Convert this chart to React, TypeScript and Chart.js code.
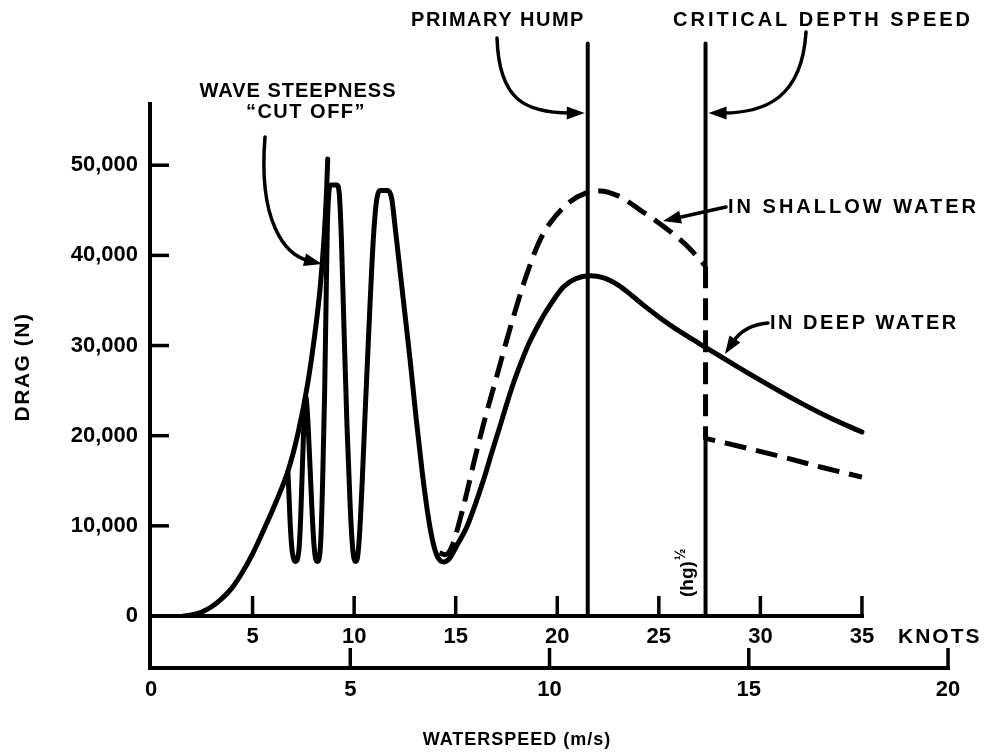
import React, { useEffect, useRef } from 'react';
import { Chart, registerables } from 'chart.js';

Chart.register(...registerables);

// ---- axis ticks ----
const knotTicks = [5, 10, 15, 20, 25, 30, 35];
const msTicks = [0, 5, 10, 15, 20];
const dragTicks = [0, 10000, 20000, 30000, 40000, 50000];

// ---- wave steepness envelope (solid) ----
const envKnots = [1.6, 2.0, 2.5, 3.0, 3.5, 4.0, 4.5, 5.0, 5.5, 6.2, 6.76, 7.25, 7.7, 8.05, 8.33, 8.52, 8.64, 8.7];
const envDrag = [0, 120, 450, 1050, 1950, 3150, 4850, 6900, 9300, 12900, 16200, 20400, 25600, 31000, 36500, 42000, 47000, 50700];

// ---- deep water drag (solid, with wave-steepness oscillations) ----
const deepKnots = [
  6.74, 6.8, 6.87, 6.95, 7.03, 7.12, 7.21, 7.29, 7.37, 7.46,
  7.55, 7.62, 7.7, 7.8, 7.92, 8.02, 8.1, 8.19, 8.28, 8.36,
  8.45, 8.55, 8.62, 8.68, 8.75, 8.85, 9.15, 9.27, 9.37, 9.5,
  9.65, 9.8, 9.9, 9.98, 10.07, 10.16, 10.25, 10.38, 10.55, 10.75,
  10.95, 11.1, 11.3, 11.65, 11.85, 12.0, 12.2, 12.45, 12.75, 13.05,
  13.35, 13.65, 13.9, 14.12, 14.4, 14.7, 15.05, 15.55, 16.37, 16.8,
  17.2, 17.55, 17.9, 18.25, 18.6, 19.0, 19.4, 19.8, 20.3, 20.9,
  21.6, 22.3, 23.0, 23.7, 24.4, 25.1, 25.8, 26.5, 27.3, 28.9,
  30.5, 32.1, 33.5, 35,
];
const deepDrag = [
  16000, 13000, 9500, 7200, 6300, 6050, 6300, 7500, 11000, 17000,
  22500, 24300, 22500, 18000, 12000, 8000, 6400, 6050, 6400, 8500,
  15000, 25000, 35000, 43000, 46800, 47800, 47800, 46800, 42000, 32000,
  21000, 12500, 8300, 6500, 6050, 6400, 8500, 14000, 23000, 33000,
  42000, 46000, 47200, 47200, 46300, 43500, 39500, 34500, 28500, 22000,
  16000, 11000, 8000, 6500, 6000, 6400, 7800, 9900, 15100, 18300,
  21200, 23800, 26200, 28300, 30200, 32000, 33600, 35000, 36500, 37400,
  37750, 37500, 36700, 35500, 34200, 33000, 31900, 30900, 29800, 27600,
  25500, 23500, 21900, 20400,
];

// ---- shallow water drag (dashed) ----
const shallowKnots = [
  14.2, 14.5, 14.85, 15.2, 15.55, 15.88, 16.2, 16.55, 17.0, 17.5,
  17.95, 18.35, 18.75, 19.15, 19.65, 20.6, 21.4, 22.1, 23.0, 24.1,
  25.0, 25.7, 26.5, 27.3,
];
const shallowDrag = [
  7000, 6800, 7900, 10600, 13700, 16900, 19800, 22800, 26400, 30500,
  34000, 36900, 39500, 41700, 43600, 45900, 46900, 47150, 46600, 45000,
  43600, 42400, 40800, 38800,
];
const shallowLowKnots = [27.3, 27.3, 29.0, 31.0, 33.0, 35.0];
const shallowLowDrag = [38800, 19700, 18800, 17700, 16500, 15400];

// ---- marker lines ----
const humpKnots = 21.5;
const criticalKnots = 27.3;
const markerTop = 63500;

const FONT = '"Liberation Sans", Arial, Helvetica, sans-serif';

function pts(xs: number[], ys: (number | null)[]) {
  return xs.map((x, i) => ({ x, y: ys[i] }));
}

function drawText(ctx: CanvasRenderingContext2D, text: string, x: number, y: number, size: number, spacing: string, align: CanvasTextAlign = 'center') {
  ctx.font = `bold ${size}px ${FONT}`;
  (ctx as any).letterSpacing = spacing;
  ctx.textAlign = align;
  ctx.textBaseline = 'middle';
  ctx.fillText(text, x, y);
  (ctx as any).letterSpacing = '0px';
}

function arrow(ctx: CanvasRenderingContext2D, p0: number[], c1: number[] | null, c2: number[] | null, tip: number[]) {
  const from = c2 || c1 || p0;
  const dx = tip[0] - from[0];
  const dy = tip[1] - from[1];
  const len = Math.hypot(dx, dy);
  const ux = dx / len, uy = dy / len;
  const headL = 18, headW = 6.5;
  const base = [tip[0] - ux * headL, tip[1] - uy * headL];
  ctx.lineWidth = 3.5;
  ctx.lineCap = 'round';
  ctx.beginPath();
  ctx.moveTo(p0[0], p0[1]);
  if (c1 && c2) ctx.bezierCurveTo(c1[0], c1[1], c2[0], c2[1], base[0] + ux * 4, base[1] + uy * 4);
  else if (c1) ctx.quadraticCurveTo(c1[0], c1[1], base[0] + ux * 4, base[1] + uy * 4);
  else ctx.lineTo(base[0] + ux * 4, base[1] + uy * 4);
  ctx.stroke();
  ctx.beginPath();
  ctx.moveTo(tip[0], tip[1]);
  ctx.lineTo(base[0] - uy * headW, base[1] + ux * headW);
  ctx.lineTo(base[0] + uy * headW, base[1] - ux * headW);
  ctx.closePath();
  ctx.fill();
}

const annotatePlugin = {
  id: 'annotate',
  beforeDraw(chart: any) {
    const ctx = chart.ctx;
    ctx.save();
    ctx.fillStyle = '#fff';
    ctx.fillRect(0, 0, chart.width, chart.height);
    ctx.restore();
  },
  afterDraw(chart: any) {
    const ctx: CanvasRenderingContext2D = chart.ctx;
    const xs = chart.scales.x;
    const ys = chart.scales.y;
    const ms = chart.scales.ms;
    ctx.save();
    ctx.strokeStyle = '#000';
    ctx.fillStyle = '#000';
    ctx.lineCap = 'butt';

    const x0 = xs.getPixelForValue(0) - 1;
    const y0 = ys.getPixelForValue(0);
    const yMs = y0 + 52;

    // y axis line
    ctx.lineWidth = 4;
    ctx.beginPath();
    ctx.moveTo(x0, ys.getPixelForValue(57000));
    ctx.lineTo(x0, yMs + 2);
    ctx.stroke();
    // y ticks
    ctx.lineWidth = 3.5;
    for (const v of dragTicks) {
      const py = ys.getPixelForValue(v);
      ctx.beginPath();
      ctx.moveTo(x0, py);
      ctx.lineTo(x0 + 19, py);
      ctx.stroke();
    }
    // knots axis
    ctx.lineWidth = 4;
    ctx.beginPath();
    ctx.moveTo(x0, y0);
    ctx.lineTo(xs.getPixelForValue(35) + 2, y0);
    ctx.stroke();
    ctx.lineWidth = 3.5;
    for (const k of knotTicks) {
      const px = xs.getPixelForValue(k);
      ctx.beginPath();
      ctx.moveTo(px, y0);
      ctx.lineTo(px, y0 - 20);
      ctx.stroke();
    }
    // m/s axis
    ctx.lineWidth = 4;
    ctx.beginPath();
    ctx.moveTo(x0, yMs);
    ctx.lineTo(ms.getPixelForValue(20) + 2, yMs);
    ctx.stroke();
    ctx.lineWidth = 3.5;
    for (const v of msTicks) {
      if (v === 0) continue;
      const px = ms.getPixelForValue(v);
      ctx.beginPath();
      ctx.moveTo(px, yMs);
      ctx.lineTo(px, yMs - 20);
      ctx.stroke();
    }

    // texts
    drawText(ctx, 'PRIMARY HUMP', 498, 20, 20, '1.5px');
    drawText(ctx, 'CRITICAL DEPTH SPEED', 823, 20, 20, '3px');
    drawText(ctx, 'WAVE STEEPNESS', 298, 91, 20, '1px');
    drawText(ctx, '\u201CCUT OFF\u201D', 306, 112, 20, '1.5px');
    drawText(ctx, 'IN SHALLOW WATER', 728, 207, 20, '3px', 'left');
    drawText(ctx, 'IN DEEP WATER', 770, 323, 20, '2.5px', 'left');
    drawText(ctx, 'KNOTS', 898, 637, 21, '2px', 'left');
    drawText(ctx, 'WATERSPEED (m/s)', 517, 740, 18, '1px');

    // rotated texts
    ctx.save();
    ctx.translate(23, 367);
    ctx.rotate(-Math.PI / 2);
    drawText(ctx, 'DRAG (N)', 0, 0, 21, '1.5px');
    ctx.restore();

    ctx.save();
    ctx.translate(688, 597);
    ctx.rotate(-Math.PI / 2);
    ctx.font = `bold 19px ${FONT}`;
    ctx.textAlign = 'left';
    ctx.textBaseline = 'middle';
    ctx.fillText('(hg)', 0, 0);
    const w = ctx.measureText('(hg)').width;
    ctx.font = `bold 14px ${FONT}`;
    ctx.fillText('\u00BD', w + 1, -7);
    ctx.restore();

    // arrows
    const hx = xs.getPixelForValue(humpKnots);
    const cx = xs.getPixelForValue(criticalKnots);
    arrow(ctx, [497, 38], [499, 100], [525, 113], [hx - 3, 113]);
    arrow(ctx, [806, 32], [802, 98], [765, 113], [cx + 3, 113]);
    arrow(ctx, [265, 137], [258, 222], [285, 255], [322, 264]);
    arrow(ctx, [726, 207], null, null, [663, 221]);
    arrow(ctx, [768, 323], [744, 325], null, [725, 354]);

    ctx.restore();
  },
};

export default function App() {
  const ref = useRef<HTMLCanvasElement | null>(null);
  useEffect(() => {
    if (!ref.current) return;
    const tickFont = { family: FONT, size: 22, weight: 'bold' as const };
    const line = (data: any[], extra: any = {}) => ({
      data,
      borderColor: '#000',
      borderWidth: 5,
      pointRadius: 0,
      fill: false,
      cubicInterpolationMode: 'monotone',
      borderCapStyle: 'round',
      borderJoinStyle: 'round',
      xAxisID: 'x',
      yAxisID: 'y',
      ...extra,
    });
    const chart = new Chart(ref.current, {
      type: 'line',
      data: {
        datasets: [
          line(pts(envKnots, envDrag)),
          line(pts(deepKnots, deepDrag)),
          line(pts(shallowKnots, shallowDrag), { borderDash: [22, 10], borderCapStyle: 'butt' }),
          line(pts(shallowLowKnots, shallowLowDrag), { borderDash: [22, 10], borderCapStyle: 'butt', cubicInterpolationMode: 'default', tension: 0 }),
          line(pts([humpKnots, humpKnots], [markerTop, 0]), { borderWidth: 4, tension: 0, cubicInterpolationMode: 'default', borderCapStyle: 'butt' }),
          line(pts([criticalKnots, criticalKnots, criticalKnots, criticalKnots, criticalKnots], [markerTop, 38800, null, 19700, 0]), { borderWidth: 4, tension: 0, cubicInterpolationMode: 'default', borderCapStyle: 'butt', spanGaps: false }),
        ],
      },
      options: {
        responsive: false,
        devicePixelRatio: 1,
        animation: false,
        parsing: true,
        layout: { padding: { top: 39, right: 34, left: 0, bottom: 0 } },
        plugins: { legend: { display: false }, tooltip: { enabled: false } },
        scales: {
          x: {
            type: 'linear',
            position: 'bottom',
            weight: 1,
            min: 0,
            max: 39.63,
            grid: { display: false, drawTicks: false },
            border: { display: false },
            ticks: { color: '#000', font: tickFont, padding: 8, maxRotation: 0 },
            afterBuildTicks: (s: any) => { s.ticks = knotTicks.map((v) => ({ value: v })); },
            afterFit: (s: any) => { s.height = 44; },
          },
          ms: {
            type: 'linear',
            position: 'bottom',
            weight: 2,
            min: 0,
            max: 20.2,
            grid: { display: false, drawTicks: false },
            border: { display: false },
            ticks: { color: '#000', font: tickFont, padding: 17, maxRotation: 0 },
            afterBuildTicks: (s: any) => { s.ticks = msTicks.map((v) => ({ value: v })); },
            afterFit: (s: any) => { s.height = 92; },
          },
          y: {
            type: 'linear',
            position: 'left',
            min: 0,
            max: 64000,
            grid: { display: false, drawTicks: false },
            border: { display: false },
            ticks: {
              color: '#000',
              font: tickFont,
              padding: 13,
              callback: (v: any) => Number(v).toLocaleString('en-US'),
            },
            afterBuildTicks: (s: any) => { s.ticks = dragTicks.map((v) => ({ value: v })); },
            afterFit: (s: any) => { s.width = 151; },
          },
        },
      } as any,
      plugins: [annotatePlugin],
    });
    return () => chart.destroy();
  }, []);
  return (
    <div style={{ position: 'absolute', left: 0, top: 0, width: 990, height: 752 }}>
      <canvas ref={ref} width={990} height={752} style={{ display: 'block' }} />
    </div>
  );
}
